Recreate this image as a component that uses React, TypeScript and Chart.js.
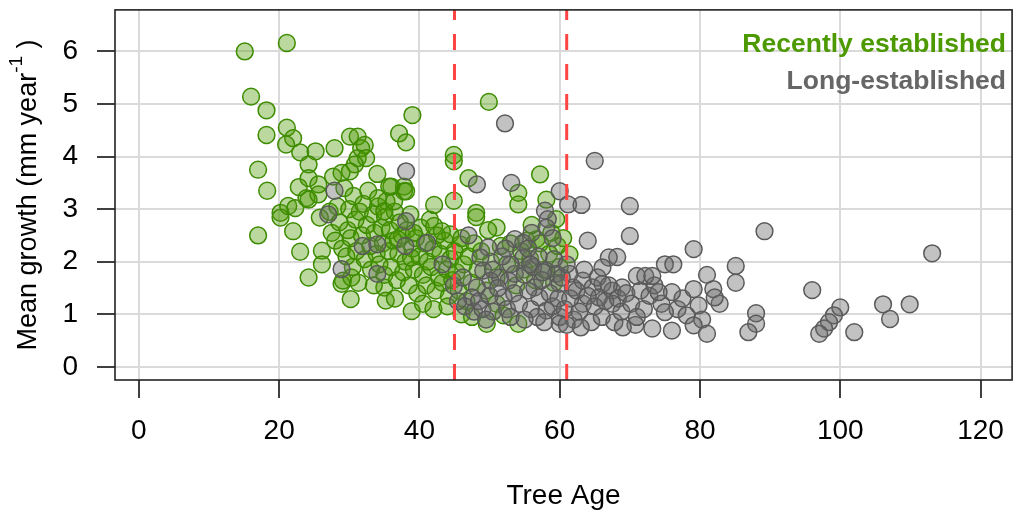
import React, { useEffect, useRef } from "react";
import { Chart, registerables } from "chart.js";

Chart.register(...registerables);

const xTicks = [0, 20, 40, 60, 80, 100, 120];
const yTicks = [0, 1, 2, 3, 4, 5, 6];
const thresholds = [45, 61];
const seriesNames = ["Recently established", "Long-established"];
const xTitle = "Tree Age";

// Recently established trees: [age, mean growth]
const recentYoung: [number, number][] = [
  [15.1, 6.0], [21.1, 6.16], [16.0, 5.14], [18.2, 4.88], [18.2, 4.41], [21.1, 4.55], [22.0, 4.35],
  [21.0, 4.23], [23.0, 4.08], [25.2, 4.1], [24.2, 3.85], [17.0, 3.75], [27.9, 4.16], [30.1, 4.38],
  [31.2, 4.38], [31.7, 4.16], [32.2, 4.22], [31.2, 3.97], [32.4, 3.97], [30.8, 3.85], [30.1, 3.72],
  [34.0, 3.67], [37.1, 4.44], [38.1, 4.27], [39.0, 4.79], [36.0, 3.43], [37.8, 3.43], [18.3, 3.35],
  [22.8, 3.42], [24.2, 3.59], [25.6, 3.47], [27.7, 3.62], [28.9, 3.69], [17.0, 2.5], [20.2, 2.93],
  [20.2, 2.84], [21.3, 3.06], [22.3, 3.02], [22.0, 2.58], [23.0, 2.19], [24.2, 1.7], [23.9, 3.21],
  [25.6, 3.28], [26.1, 2.21], [26.1, 1.95], [25.8, 2.84], [24.2, 3.18], [28.9, 1.58], [29.1, 1.64],
  [30.3, 1.7], [30.2, 1.29], [35.0, 1.51], [35.2, 1.26], [38.9, 1.06],
];

const recentCore: [number, number][] = [
  [27.2, 2.95], [27.5, 2.55], [28.0, 2.4], [28.3, 3.05], [28.6, 2.75], [29.0, 2.25], [29.3, 3.4],
  [29.6, 2.1], [29.8, 2.6], [30.0, 3.0], [30.2, 2.45], [30.5, 1.9], [30.6, 3.25], [30.9, 2.8],
  [31.0, 2.2], [31.3, 1.6], [31.5, 2.95], [31.8, 2.5], [32.0, 3.1], [32.2, 2.05], [32.5, 2.7],
  [32.7, 3.35], [33.0, 2.3], [33.1, 1.85], [33.4, 2.9], [33.6, 2.55], [33.9, 2.15], [34.1, 3.05],
  [34.3, 1.95], [34.6, 2.65], [34.8, 2.35], [35.0, 1.75], [35.1, 2.85], [35.3, 3.15], [35.6, 2.2],
  [35.8, 2.6], [36.0, 1.9], [36.3, 2.4], [36.5, 2.95], [36.8, 1.65], [37.0, 2.15], [37.2, 2.75],
  [37.5, 2.5], [37.7, 1.8], [38.0, 2.0], [38.2, 2.6], [38.5, 1.55], [38.7, 2.9], [39.0, 2.25],
  [39.2, 1.85], [39.5, 2.45], [39.7, 1.4], [40.0, 2.1], [40.2, 2.65], [40.5, 1.75], [40.8, 2.35],
  [41.0, 1.55], [41.2, 2.0], [41.5, 2.8], [41.7, 1.9], [42.0, 2.25], [42.3, 1.45], [42.5, 2.5],
  [42.8, 1.7], [43.0, 2.15], [43.3, 1.6], [43.6, 2.4], [43.9, 1.85], [44.2, 1.35], [44.4, 2.05],
  [44.7, 1.65], [34.1, 3.21], [35.0, 2.96], [36.4, 3.15], [37.8, 3.34], [35.7, 3.43], [36.9, 2.43],
  [39.2, 2.55], [38.8, 2.08], [38.1, 3.34], [42.1, 3.08], [42.1, 2.68], [44.4, 2.52], [43.2, 2.58],
  [33.5, 1.55], [36.5, 1.3], [40.5, 1.2], [42.0, 1.1], [44.0, 1.15],
];

const recentOlder: [number, number][] = [
  [44.9, 4.03], [44.9, 3.91], [47.0, 3.59], [44.9, 3.16], [48.1, 2.93], [48.1, 2.85], [51.0, 2.65],
  [49.8, 2.6], [54.1, 3.31], [54.1, 3.09], [57.2, 3.66], [58.1, 3.18], [59.5, 2.81], [54.1, 0.82],
  [49.6, 0.82], [52.0, 0.98], [49.9, 5.04], [45.8, 2.33], [61.4, 2.14], [59.7, 2.3], [55.3, 2.4],
  [56.7, 2.43], [51.0, 1.2], [45.0, 2.2], [45.3, 1.8], [45.6, 1.45], [46.0, 2.45], [46.3, 1.95],
  [46.7, 1.25], [47.0, 2.1], [47.4, 1.6], [47.8, 2.35], [48.3, 1.85], [48.8, 2.2], [49.5, 1.45],
  [50.2, 2.0], [51.0, 1.7], [51.6, 2.3], [52.5, 1.95], [53.0, 2.35], [53.8, 1.55], [54.5, 2.2],
  [55.0, 1.85], [55.8, 2.05], [56.5, 1.65], [57.2, 2.35], [57.8, 1.85], [58.5, 2.15], [59.2, 1.6],
  [60.0, 1.9], [60.5, 2.45], [56.0, 2.7], [58.8, 2.55], [46.0, 1.0], [47.5, 0.95],
];

// Long-established trees: [age, mean growth]
const longYoung: [number, number][] = [
  [27.0, 2.9], [27.9, 3.35], [28.9, 1.86], [31.9, 2.3], [34.0, 2.33], [34.0, 1.77], [38.1, 2.77],
  [38.0, 2.3], [38.1, 3.72], [41.1, 2.36], [43.3, 1.95], [44.9, 1.54], [47.0, 2.5], [48.2, 3.47],
  [52.2, 4.63], [53.1, 3.5], [60.0, 3.34], [57.9, 2.97], [61.2, 3.09], [63.1, 3.08], [65.0, 3.92],
  [64.0, 2.4], [70.0, 3.06], [70.0, 2.49], [58.3, 2.81], [58.1, 2.65], [53.6, 2.43], [54.8, 2.36],
  [49.8, 2.27], [48.7, 2.08],
];

const longCore: [number, number][] = [
  [56.4, 1.51], [57.1, 1.32], [52.0, 1.32], [51.5, 1.7], [52.7, 1.64], [53.6, 1.77], [54.8, 2.08],
  [49.1, 1.83], [50.1, 1.64], [48.2, 1.51], [47.5, 1.32], [58.1, 1.07], [60.0, 0.95], [61.9, 1.51],
  [63.3, 1.64], [64.7, 1.51], [66.1, 1.58], [67.5, 1.45], [68.9, 1.51], [63.3, 1.2], [65.6, 1.32],
  [67.5, 1.2], [61.4, 1.77], [58.1, 1.83], [59.5, 1.77], [60.0, 1.58], [60.0, 0.82], [46.5, 1.15],
  [47.8, 1.05], [48.5, 1.25], [49.0, 1.1], [50.0, 1.35], [50.5, 1.05], [51.2, 1.5], [52.5, 1.1],
  [53.0, 1.95], [53.5, 1.4], [54.2, 1.2], [55.0, 1.75], [55.5, 1.45], [55.9, 1.1], [56.2, 1.9],
  [56.8, 0.95], [57.5, 1.65], [58.6, 1.4], [59.0, 1.15], [59.2, 2.05], [59.8, 1.3], [60.3, 1.7],
  [60.7, 1.1], [61.0, 1.95], [61.5, 1.3], [62.0, 0.9], [62.4, 1.45], [62.8, 1.05], [63.5, 1.85],
  [64.0, 1.35], [64.5, 0.85], [65.0, 1.15], [65.4, 1.7], [66.0, 0.95], [66.5, 1.25], [67.0, 1.55],
  [67.8, 0.85], [68.3, 1.3], [68.8, 1.05], [69.5, 1.4], [70.2, 1.2], [70.8, 0.8], [71.5, 1.45],
  [72.0, 1.1], [72.8, 1.35], [73.5, 1.55], [74.5, 1.2], [76.8, 1.1], [77.5, 1.3], [80.3, 0.9],
  [45.5, 1.25], [46.2, 1.7], [50.5, 1.85], [51.8, 2.1], [55.5, 2.25], [57.0, 2.1], [59.0, 2.45],
  [56.0, 2.55], [49.5, 0.9], [53.0, 0.95], [55.0, 0.9], [57.8, 0.85], [61.0, 0.8], [63.0, 0.75],
  [69.0, 0.75], [71.0, 0.95], [55.8, 1.95], [57.6, 1.8], [52.3, 2.25],
];

const longOld: [number, number][] = [
  [67.0, 2.08], [68.2, 2.09], [66.1, 1.89], [89.2, 2.58], [113.1, 2.16], [79.1, 2.24], [75.0, 1.95],
  [76.2, 1.95], [85.1, 1.92], [85.1, 1.6], [81.0, 1.75], [71.0, 1.73], [72.2, 1.73], [73.2, 1.73],
  [79.1, 1.48], [81.9, 1.48], [76.0, 1.42], [74.1, 1.42], [79.8, 1.17], [82.8, 1.2], [82.1, 1.32],
  [75.0, 1.04], [78.1, 0.98], [73.2, 0.73], [76.0, 0.69], [79.1, 0.79], [81.0, 0.63], [88.0, 1.02],
  [88.0, 0.82], [86.9, 0.66], [96.0, 1.46], [100.0, 1.13], [99.1, 0.98], [98.4, 0.85], [97.7, 0.73],
  [97.0, 0.63], [102.0, 0.66], [106.1, 1.19], [107.1, 0.91], [109.9, 1.19],
];

const FONT = "'Liberation Sans', Arial, Helvetica, sans-serif";

export default function App() {
  const ref = useRef<HTMLCanvasElement>(null);

  useEffect(() => {
    const canvas = ref.current;
    if (!canvas) return;
    const toPts = (arr: [number, number][]) => arr.map(([x, y]) => ({ x, y }));

    const overlay = {
      id: "overlay",
      afterDatasetsDraw(chart: any) {
        const { ctx, chartArea: a, scales } = chart;
        const xs = scales.x;
        ctx.save();
        ctx.strokeStyle = "#ff4444";
        ctx.lineWidth = 3;
        ctx.setLineDash([16, 14]);
        for (const t of thresholds) {
          const px = xs.getPixelForValue(t);
          ctx.beginPath();
          ctx.moveTo(px, a.bottom);
          ctx.lineTo(px, a.top);
          ctx.stroke();
        }
        ctx.setLineDash([]);
        ctx.strokeStyle = "#222";
        ctx.lineWidth = 1.6;
        ctx.strokeRect(a.left, a.top, a.right - a.left, a.bottom - a.top);
        ctx.font = `bold 26.5px ${FONT}`;
        ctx.textAlign = "right";
        ctx.textBaseline = "alphabetic";
        ctx.fillStyle = "#4c9900";
        ctx.fillText(seriesNames[0], 1006, 52);
        ctx.fillStyle = "#666666";
        ctx.fillText(seriesNames[1], 1006, 89);
        const main = "Mean growth (mm year";
        const sup = "-1";
        const tail = " )";
        ctx.font = `27px ${FONT}`;
        const w1 = ctx.measureText(main).width;
        const w3 = ctx.measureText(tail).width;
        ctx.font = `19px ${FONT}`;
        const w2 = ctx.measureText(sup).width;
        ctx.translate(36, (a.top + a.bottom) / 2);
        ctx.rotate(-Math.PI / 2);
        ctx.fillStyle = "#000";
        ctx.textAlign = "left";
        let sx = -(w1 + w2 + w3) / 2;
        ctx.font = `27px ${FONT}`;
        ctx.fillText(main, sx, 0);
        sx += w1;
        ctx.font = `19px ${FONT}`;
        ctx.fillText(sup, sx, -14);
        sx += w2;
        ctx.font = `27px ${FONT}`;
        ctx.fillText(tail, sx, 0);
        ctx.restore();
      },
    };

    const green = {
      label: seriesNames[0],
      data: toPts([...recentYoung, ...recentCore, ...recentOlder]),
      backgroundColor: "rgba(76,153,0,0.38)",
      borderColor: "#3d8c00",
      borderWidth: 1.5,
      pointRadius: 8.4,
      order: 2,
    };
    const gray = {
      label: seriesNames[1],
      data: toPts([...longYoung, ...longCore, ...longOld]),
      backgroundColor: "rgba(102,102,102,0.4)",
      borderColor: "#5a5a5a",
      borderWidth: 1.5,
      pointRadius: 8.4,
      order: 1,
    };

    const zeroPad = (s: any) => {
      s.paddingTop = 0;
      s.paddingBottom = 0;
      s.paddingLeft = 0;
      s.paddingRight = 0;
    };

    const chart = new Chart(canvas, {
      type: "scatter",
      data: { datasets: [green, gray] as any },
      options: {
        animation: false,
        responsive: false,
        devicePixelRatio: 1,
        events: [],
        layout: { padding: { left: 0, top: 7, right: 2, bottom: 0 } },
        plugins: { legend: { display: false }, tooltip: { enabled: false } },
        scales: {
          x: {
            type: "linear",
            position: "bottom",
            min: -3.4,
            max: 124.5,
            afterBuildTicks: (s: any) => {
              s.ticks = xTicks.map((v) => ({ value: v }));
            },
            afterFit: (s: any) => {
              s.height = 139;
              zeroPad(s);
            },
            grid: {
              color: "#dadada",
              lineWidth: 2,
              tickColor: "#000",
              tickWidth: 1.5,
              tickLength: 18,
            },
            border: { display: false },
            ticks: {
              color: "#000",
              font: { family: FONT, size: 28 },
              padding: 16,
              maxRotation: 0,
              autoSkip: false,
            },
            title: {
              display: true,
              text: xTitle,
              color: "#000",
              font: { family: FONT, size: 28 },
              padding: { top: 0, bottom: 6 },
            },
          },
          y: {
            type: "linear",
            min: -0.25,
            max: 6.79,
            afterBuildTicks: (s: any) => {
              s.ticks = yTicks.map((v) => ({ value: v }));
            },
            afterFit: (s: any) => {
              s.width = 115;
              zeroPad(s);
            },
            grid: {
              color: "#dadada",
              lineWidth: 2,
              tickColor: "#000",
              tickWidth: 1.5,
              tickLength: 18,
            },
            border: { display: false },
            ticks: {
              color: "#000",
              font: { family: FONT, size: 28 },
              padding: 19,
              autoSkip: false,
            },
          },
        },
      },
      plugins: [overlay],
    } as any);

    return () => chart.destroy();
  }, []);

  return (
    <div style={{ position: "fixed", left: 0, top: 0, width: 1022, height: 519, background: "#fff" }}>
      <canvas ref={ref} width={1022} height={519} style={{ display: "block", width: 1022, height: 519 }} />
    </div>
  );
}
